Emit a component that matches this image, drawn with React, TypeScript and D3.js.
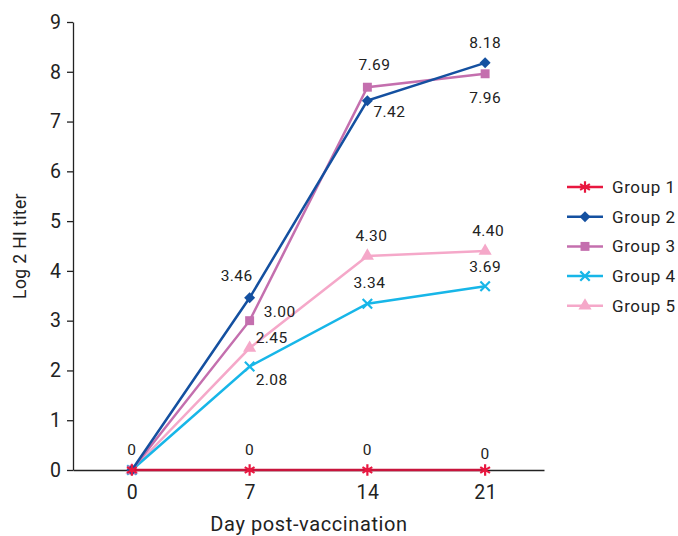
import React, { useEffect, useRef } from 'react';
import * as d3 from 'd3';

const days = ['0', '7', '14', '21'];
const groups = ['Group 1', 'Group 2', 'Group 3', 'Group 4', 'Group 5'];
const group1 = [0, 0, 0, 0];
const group2 = [0, 3.46, 7.42, 8.18];
const group3 = [0, 3.0, 7.69, 7.96];
const group4 = [0, 2.08, 3.34, 3.69];
const group5 = [0, 2.45, 4.3, 4.4];
const yTicks = [0, 1, 2, 3, 4, 5, 6, 7, 8, 9];

// label text for each point (null = no label)
const labels1 = ['0', '0', '0', '0'];
const labels2 = [null, '3.46', '7.42', '8.18'];
const labels3 = [null, '3.00', '7.69', '7.96'];
const labels4 = [null, '2.08', '3.34', '3.69'];
const labels5 = [null, '2.45', '4.30', '4.40'];

// label offsets from the point, [dx, dy]
const offs1 = [[0, -20], [0, -20], [0, -20], [0, -16]];
const offs2 = [[0, 0], [-13, -22], [22, 11], [0, -20]];
const offs3 = [[0, 0], [30, -9], [7, -22], [0, 24]];
const offs4 = [[0, 0], [22, 14], [2, -21], [0, -19]];
const offs5 = [[0, 0], [22, -10], [4, -20], [3, -20]];

const colors = ['#e8173f', '#1450a0', '#c46fae', '#17b6e8', '#f5a8c9'];
const shapes = [d3.symbolAsterisk, d3.symbolSquare, d3.symbolSquare, d3.symbolTimes, d3.symbolTriangle];
const sizes = [90, 60, 80, 60, 75];
const rotations = [0, 45, 0, 0, 0];

const W = 678;
const H = 536;
const margin = { left: 73, right: 134, top: 22, bottom: 66 };
const font = 'Roboto, "Liberation Sans", Arial, sans-serif';

export default function App() {
  const ref = useRef<SVGSVGElement>(null);

  useEffect(() => {
    const svg = d3.select(ref.current);
    svg.selectAll('*').remove();

    const x = d3.scalePoint<string>()
      .domain(days)
      .range([margin.left, W - margin.right])
      .padding(0.5);
    const y = d3.scaleLinear()
      .domain([0, 9])
      .range([H - margin.bottom, margin.top]);

    const text = '#222';

    // y axis
    const ya = svg.append('g').attr('transform', `translate(${margin.left},0)`)
      .call(d3.axisLeft(y).tickValues(yTicks).tickSize(6).tickPadding(6).tickSizeOuter(0));
    ya.select('.domain').attr('stroke', '#222').attr('stroke-width', 1.3);
    ya.selectAll('.tick line').attr('stroke', '#222').attr('stroke-width', 1.3);
    ya.selectAll('.tick text').attr('font-size', 19.5).attr('font-family', font).attr('fill', text);

    // x axis
    const xa = svg.append('g').attr('transform', `translate(0,${y(0)})`)
      .call(d3.axisBottom(x).tickSize(0).tickPadding(15).tickSizeOuter(0));
    xa.select('.domain').attr('stroke', '#222').attr('stroke-width', 1.3);
    xa.selectAll('.tick text').attr('font-size', 19.5).attr('font-family', font).attr('fill', text)
      .attr('letter-spacing', 0.5);

    svg.append('text')
      .attr('transform', `translate(26,${y(4.5)}) rotate(-90)`)
      .attr('text-anchor', 'middle')
      .attr('font-size', 17.5).attr('font-family', font).attr('fill', text)
      .attr('letter-spacing', 0.4)
      .text('Log 2 HI titer');
    svg.append('text')
      .attr('x', 309)
      .attr('y', 531)
      .attr('text-anchor', 'middle')
      .attr('font-size', 20).attr('font-family', font).attr('fill', text)
      .attr('letter-spacing', 0.6)
      .text('Day post-vaccination');

    const series = [group1, group2, group3, group4, group5];
    const labelSets = [labels1, labels2, labels3, labels4, labels5];
    const offSets = [offs1, offs2, offs3, offs4, offs5];

    const line = d3.line<number>()
      .x((_, i) => x(days[i]) as number)
      .y(d => y(d));

    const isFilled = (gi: number) => gi === 1 || gi === 2 || gi === 4;

    const drawOrder = [4, 3, 2, 1, 0];
    drawOrder.forEach(gi => {
      const vals = series[gi];
      const g = svg.append('g');
      g.append('path')
        .attr('d', line(vals))
        .attr('fill', 'none')
        .attr('stroke', gi === 0 ? '#c8143c' : colors[gi])
        .attr('stroke-width', 2.5);
      const filled = isFilled(gi);
      g.selectAll('path.m')
        .data(vals)
        .enter()
        .append('path')
        .attr('class', 'm')
        .attr('transform', (d, i) => `translate(${x(days[i])},${y(d)}) rotate(${rotations[gi]})`)
        .attr('d', d3.symbol().type(shapes[gi]).size(sizes[gi]))
        .attr('fill', filled ? colors[gi] : 'none')
        .attr('stroke', colors[gi])
        .attr('stroke-width', filled ? 0 : 2.2);
    });

    // data labels
    series.forEach((vals, gi) => {
      vals.forEach((v, i) => {
        const lab = labelSets[gi][i];
        if (!lab) return;
        const [dx, dy] = offSets[gi][i];
        svg.append('text')
          .attr('x', (x(days[i]) as number) + dx)
          .attr('y', y(v) + dy)
          .attr('text-anchor', 'middle')
          .attr('dominant-baseline', 'central')
          .attr('font-size', 15.5).attr('font-family', font).attr('fill', text)
          .attr('letter-spacing', 0.4)
          .text(lab);
      });
    });

    // legend
    const lg = svg.append('g').attr('transform', 'translate(567,187)');
    groups.forEach((name, gi) => {
      const row = lg.append('g').attr('transform', `translate(0,${gi * 29.7})`);
      row.append('line').attr('x1', 0).attr('x2', 36).attr('y1', 0).attr('y2', 0)
        .attr('stroke', colors[gi]).attr('stroke-width', 2.5);
      const filled = isFilled(gi);
      row.append('path')
        .attr('transform', `translate(18,0) rotate(${rotations[gi]})`)
        .attr('d', d3.symbol().type(shapes[gi]).size(sizes[gi]))
        .attr('fill', filled ? colors[gi] : 'none')
        .attr('stroke', colors[gi])
        .attr('stroke-width', filled ? 0 : 2.2);
      row.append('text')
        .attr('x', 45).attr('y', 0)
        .attr('dominant-baseline', 'central')
        .attr('font-size', 17).attr('font-family', font).attr('fill', text)
        .attr('letter-spacing', 0.6)
        .text(name);
    });
  }, []);

  return (
    <svg ref={ref} width={W} height={H} style={{ display: 'block', position: 'absolute', left: 0, top: 0, background: '#fff' }} />
  );
}
